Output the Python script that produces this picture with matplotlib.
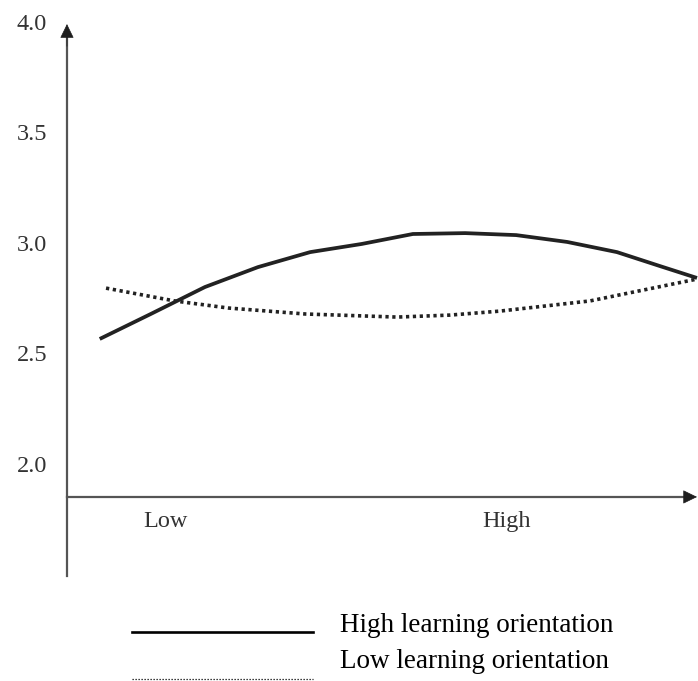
# interaction plot: learning orientation as moderator
import numpy as np
import matplotlib.pyplot as plt

plt.rcParams['font.family'] = ['Liberation Serif', 'DejaVu Serif']

# data (x on a 0..10 moderator scale, y is the outcome)
x_high = [0.52, 1.33, 2.19, 3.03, 3.86, 4.68, 5.49, 6.32, 7.13, 7.94, 8.73, 9.41, 10.0]
y_high = [2.575, 2.688, 2.810, 2.900, 2.968, 3.005, 3.050, 3.054, 3.045, 3.014, 2.968, 2.905, 2.851]

x_low = [0.62, 1.71, 2.56, 3.78, 5.24, 6.08, 6.87, 8.30, 10.0]
y_low = [2.805, 2.747, 2.715, 2.688, 2.674, 2.683, 2.701, 2.747, 2.846]

y_ticks = [4.0, 3.5, 3.0, 2.5, 2.0]
y_tick_labels = ['4.0', '3.5', '3.0', '2.5', '2.0']
x_cats = ['Low', 'High']
x_cat_pos = [1.57, 6.98]
series_names = ['High learning orientation', 'Low learning orientation']

axis_col = '#555555'
text_col = '#333333'

fig = plt.figure(figsize=(6.98, 6.81), dpi=100)
ax = fig.add_axes([0, 0, 1, 1])
ax.set_xlim(-1.063, 10.016)
ax.set_ylim(1.027, 4.109)
ax.axis('off')

# axes with arrow heads
x_base = 1.860
ax.plot([0, 0], [1.50, 3.96], color=axis_col, lw=1.6)
ax.plot([0, 9.85], [x_base, x_base], color=axis_col, lw=1.6)
head = dict(arrowstyle='-|>,head_length=0.45,head_width=0.22', color='#1e1e1e',
            lw=0.5, mutation_scale=20, shrinkA=0, shrinkB=0)
ax.annotate('', xy=(0, 4.0), xytext=(0, 3.9), arrowprops=head)
ax.annotate('', xy=(10.0, x_base), xytext=(9.8, x_base), arrowprops=head)

# tick labels
for v, lab in zip(y_ticks, y_tick_labels):
    ax.text(-0.556, v, lab, ha='center', va='center', fontsize=17.5, color=text_col)
for xp, lab in zip(x_cat_pos, x_cats):
    ax.text(xp, 1.747, lab, ha='center', va='center', fontsize=17.5, color=text_col)

# lines
ax.plot(x_high, y_high, color='#222222', lw=2.7, solid_capstyle='butt')
ax.plot(x_low, y_low, color='#222222', lw=2.6, linestyle=(0, (0.9, 1.0)))

# legend drawn by hand
fig.add_artist(plt.Line2D([132/698, 313/698], [1 - 632/681, 1 - 632/681],
                          color='black', lw=1.9))
fig.add_artist(plt.Line2D([132/698, 313/698], [1 - 679/681, 1 - 679/681],
                          color='black', lw=0.9, linestyle=(0, (1, 1.4))))
fig.text(340/698, 1 - 626/681, series_names[0], ha='left', va='center',
         fontsize=19.5, color='black')
fig.text(340/698, 1 - 662/681, series_names[1], ha='left', va='center',
         fontsize=19.5, color='black')

fig.savefig('out.png', dpi=100)
